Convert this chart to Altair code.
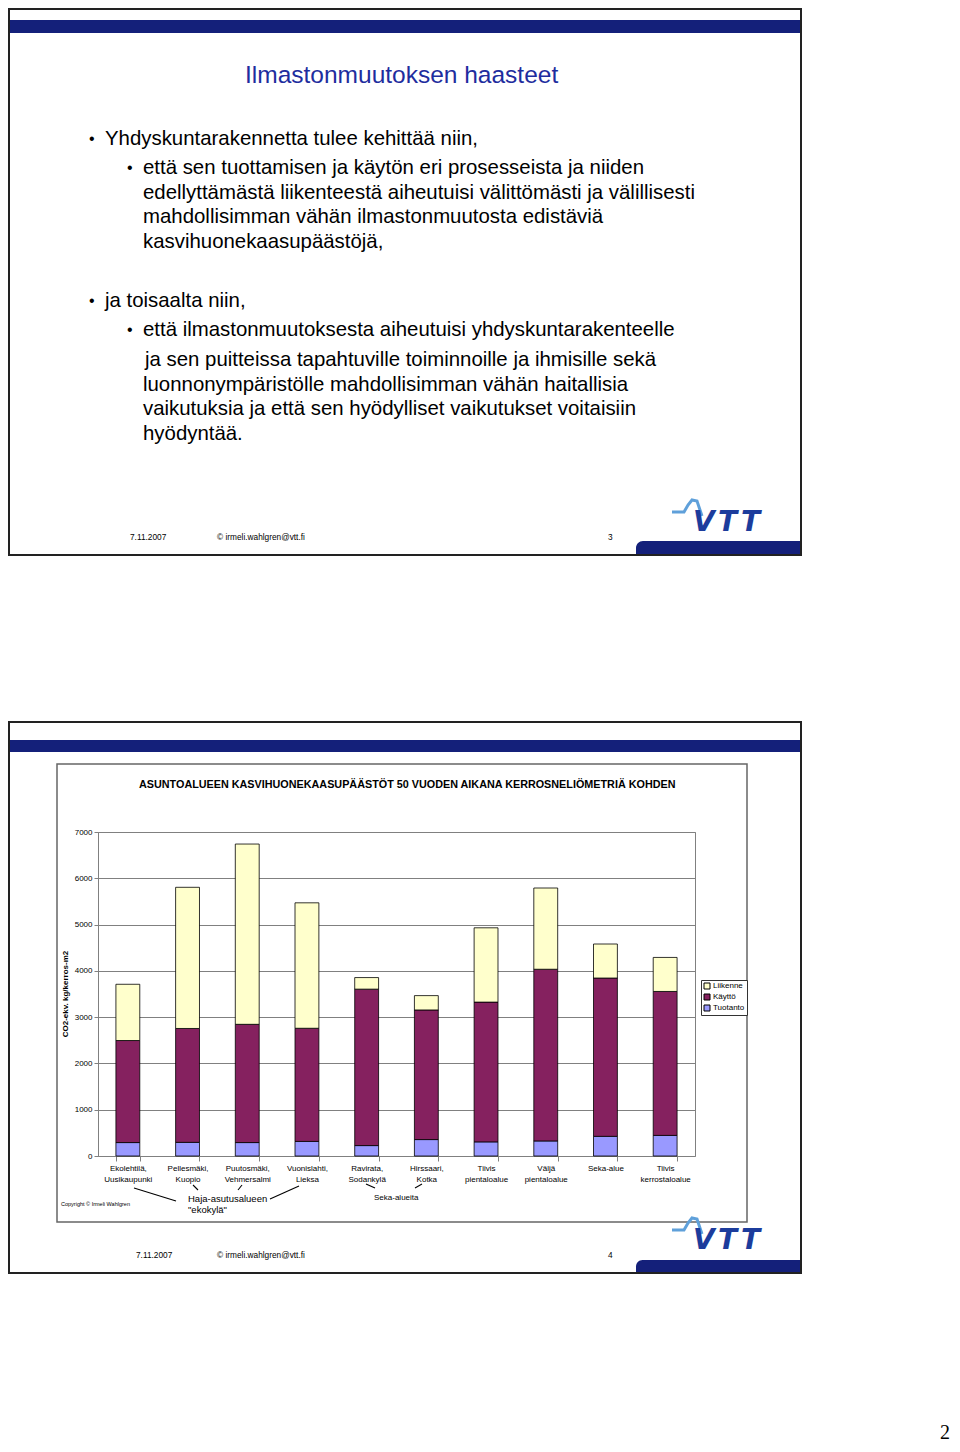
import altair as alt
import pandas as pd

# ---------------- data ----------------
categories = ["Ekolehtilä,|Uusikaupunki", "Pellesmäki,|Kuopio", "Puutosmäki,|Vehmersalmi",
              "Vuonislahti,|Lieksa", "Ravirata,|Sodankylä", "Hirssaari,|Kotka",
              "Tiivis|pientaloalue", "Väljä|pientaloalue", "Seka-alue", "Tiivis|kerrostaloalue"]
tuotanto = [290, 295, 290, 315, 225, 355, 305, 325, 425, 445]
kaytto = [2205, 2460, 2555, 2445, 3380, 2800, 3020, 3710, 3420, 3110]
liikenne = [1215, 3050, 3895, 2710, 250, 310, 1605, 1755, 735, 735]
series = ["Liikenne", "Käyttö", "Tuotanto"]
series_colors = ["#FFFFCC", "#85215F", "#9999FF"]
y_ticks = [0, 1000, 2000, 3000, 4000, 5000, 6000, 7000]

chart_title = "ASUNTOALUEEN KASVIHUONEKAASUPÄÄSTÖT 50 VUODEN AIKANA KERROSNELIÖMETRIÄ KOHDEN"
y_title = "CO2-ekv. kg/kerros-m2"

slide1_title = "Ilmastonmuutoksen haasteet"
slide1_lines = [
    (105, 139, "Yhdyskuntarakennetta tulee kehittää niin,"),
    (143, 168, "että sen tuottamisen ja käytön eri prosesseista ja niiden"),
    (143, 193, "edellyttämästä liikenteestä aiheutuisi välittömästi ja välillisesti"),
    (143, 217, "mahdollisimman vähän ilmastonmuutosta edistäviä"),
    (143, 242, "kasvihuonekaasupäästöjä,"),
    (105, 301, "ja toisaalta niin,"),
    (143, 330, "että ilmastonmuutoksesta aiheutuisi yhdyskuntarakenteelle"),
    (145, 360, "ja sen puitteissa tapahtuville toiminnoille ja ihmisille sekä"),
    (143, 385, "luonnonympäristölle mahdollisimman vähän haitallisia"),
    (143, 409, "vaikutuksia ja että sen hyödylliset vaikutukset voitaisiin"),
    (143, 434, "hyödyntää."),
]
bullets = [(89, 139), (127, 168), (89, 301), (127, 330)]

# page-coordinate layout helpers (plot area origin on the page)
OX, OY = 98, 832
W, H = 597, 324

# ---------------- bar data ----------------
rows = []
for i, c in enumerate(categories):
    rows.append({"cat": c, "series": "Tuotanto", "value": tuotanto[i], "ord": 0})
    rows.append({"cat": c, "series": "Käyttö", "value": kaytto[i], "ord": 1})
    rows.append({"cat": c, "series": "Liikenne", "value": liikenne[i], "ord": 2})
bar_df = pd.DataFrame(rows)

FONT = "Liberation Sans"

bars = alt.Chart(bar_df).mark_bar(stroke="black", strokeWidth=0.8).encode(
    x=alt.X("cat:N", sort=categories,
            scale=alt.Scale(domain=categories, paddingInner=0.6, paddingOuter=0.3),
            axis=alt.Axis(title=None, labelAngle=0, domain=False, tickBand="extent",
                          tickSize=5, tickColor="#808080", labelExpr="split(datum.label, '|')",
                          labelFont=FONT, labelFontSize=8, labelColor="black",
                          labelLineHeight=11, labelPadding=3, labelLimit=0)),
    y=alt.Y("value:Q", stack="zero",
            scale=alt.Scale(domain=[0, 7000], nice=False),
            axis=alt.Axis(title=None, values=y_ticks, format="d", grid=True, gridColor="#808080",
                          gridWidth=1, tickSize=4, tickColor="#808080", domainColor="#808080",
                          labelFont=FONT, labelFontSize=8, labelColor="black", labelPadding=2)),
    color=alt.Color("series:N", scale=alt.Scale(domain=series, range=series_colors),
                    legend=alt.Legend(title=None, orient="none", legendX=603, legendY=148,
                                      strokeColor="#333333", fillColor="white", padding=2,
                                      symbolType="square", symbolSize=36,
                                      symbolStrokeColor="black", symbolStrokeWidth=1,
                                      labelFont=FONT, labelFontSize=8, labelColor="black",
                                      rowPadding=1, labelOffset=2)),
    order=alt.Order("ord:Q", sort="ascending"),
)

# ---------------- decorations ----------------
def P(x, y):
    return x - OX, y - OY

# outlined rectangles
outline = []
for (x1, y1, x2, y2, st, sw) in [(9, 9, 801, 555, "#222222", 2), (9, 722, 801, 1273, "#222222", 2),
                                  (57, 764, 747, 1222, "#666666", 1.5)]:
    a, b = P(x1, y1); c, d = P(x2, y2)
    outline.append({"x": a, "y": b, "x2": c, "y2": d, "st": st, "sw": sw})
outline_df = pd.DataFrame(outline)
outline_layer = alt.Chart(outline_df).mark_rect(fillOpacity=0).encode(
    x=alt.X("x:Q", scale=None), x2="x2:Q", y=alt.Y("y:Q", scale=None), y2="y2:Q",
    stroke=alt.Stroke("st:N", scale=None), strokeWidth=alt.StrokeWidth("sw:Q", scale=None))

NAVY = "#14207A"
bands = []
for (x1, y1, x2, y2) in [(10, 20, 800, 33), (10, 740, 800, 752)]:
    a, b = P(x1, y1); c, d = P(x2, y2)
    bands.append({"x": a, "y": b, "x2": c, "y2": d})
band_layer = alt.Chart(pd.DataFrame(bands)).mark_rect(color=NAVY).encode(
    x=alt.X("x:Q", scale=None), x2="x2:Q", y=alt.Y("y:Q", scale=None), y2="y2:Q")

corners = []
for (x1, y1, x2, y2) in [(636, 541, 800, 555), (636, 1260, 800, 1273)]:
    a, b = P(x1, y1); c, d = P(x2, y2)
    corners.append({"x": a, "y": b, "x2": c, "y2": d})
corner_layer = alt.Chart(pd.DataFrame(corners)).mark_rect(color=NAVY, cornerRadiusTopLeft=14).encode(
    x=alt.X("x:Q", scale=None), x2="x2:Q", y=alt.Y("y:Q", scale=None), y2="y2:Q")

# annotation lines
segs = []
for (x1, y1, x2, y2) in [(134, 1188, 176, 1201), (193, 1185, 198, 1190), (242, 1185, 238, 1190),
                         (299, 1186, 270, 1199), (366, 1184, 375, 1188), (422, 1184, 415, 1188)]:
    a, b = P(x1, y1); c, d = P(x2, y2)
    segs.append({"x": a, "y": b, "x2": c, "y2": d})
seg_layer = alt.Chart(pd.DataFrame(segs)).mark_rule(color="black", strokeWidth=1.1).encode(
    x=alt.X("x:Q", scale=None), x2="x2:Q", y=alt.Y("y:Q", scale=None), y2="y2:Q")

# VTT logo wave
wave_pts = [(672, 512), (684, 512), (688, 505), (692, 500), (697, 501), (702, 516)]
wave = []
for g, dy in [(0, 0), (1, 718)]:
    for i, (x, y) in enumerate(wave_pts):
        a, b = P(x, y + dy)
        wave.append({"x": a, "y": b, "g": g, "i": i})
wave_layer = alt.Chart(pd.DataFrame(wave)).mark_line(color="#5FA0DA", strokeWidth=3).encode(
    x=alt.X("x:Q", scale=None), y=alt.Y("y:Q", scale=None),
    detail="g:N", order=alt.Order("i:Q"))

letters = []
for dy in [0, 718]:
    for (x, ch) in [(693, "V"), (718, "T"), (741, "T")]:
        a, b = P(x, 531 + dy)
        letters.append({"x": a, "y": b, "t": ch})
letter_layer = alt.Chart(pd.DataFrame(letters)).mark_text(
    font="DejaVu Sans", fontWeight="bold", fontStyle="italic", fontSize=28,
    align="left", baseline="alphabetic", color="#1C3C9C").encode(
    x=alt.X("x:Q", scale=None), y=alt.Y("y:Q", scale=None), text="t:N")

# plain texts
texts = []
def T(x, y, s, fs, col="black"):
    a, b = P(x, y)
    texts.append({"x": a, "y": b, "t": s, "fs": fs, "col": col})

T(245, 76, slide1_title, 24.5, "#1E2D9E")
for (x, y, s) in slide1_lines:
    T(x, y, s, 20.4)
for (x, y) in bullets:
    T(x, y, "•", 16)
for dy, num, dx in [(0, "3", 130), (718, "4", 136)]:
    T(dx, 538 + dy, "7.11.2007", 8.3)
    T(217, 538 + dy, "© irmeli.wahlgren@vtt.fi", 8.3)
    T(608, 538 + dy, num, 8.3)
T(61, 1204, "Copyright © Irmeli Wahlgren", 5.5)
T(188, 1199, "Haja-asutusalueen", 9.5)
T(188, 1210, '"ekokylä"', 9.5)
T(374, 1198, "Seka-alueita", 8)
text_layer = alt.Chart(pd.DataFrame(texts)).mark_text(
    font=FONT, align="left", baseline="middle").encode(
    x=alt.X("x:Q", scale=None), y=alt.Y("y:Q", scale=None), text="t:N",
    size=alt.Size("fs:Q", scale=None), fill=alt.Fill("col:N", scale=None))

tx, ty = P(139, 785)
title_layer = alt.Chart(pd.DataFrame([{"x": tx, "y": ty, "t": chart_title}])).mark_text(
    font=FONT, fontWeight="bold", fontSize=10.8, align="left", baseline="middle", color="black").encode(
    x=alt.X("x:Q", scale=None), y=alt.Y("y:Q", scale=None), text="t:N")

yx, yy = P(66, 994)
ytitle_layer = alt.Chart(pd.DataFrame([{"x": yx, "y": yy, "t": y_title}])).mark_text(
    font=FONT, fontWeight="bold", fontSize=8, align="center", baseline="middle",
    angle=270, color="black").encode(
    x=alt.X("x:Q", scale=None), y=alt.Y("y:Q", scale=None), text="t:N")

px_, py_ = P(950, 1433)
page_layer = alt.Chart(pd.DataFrame([{"x": px_, "y": py_, "t": "2"}])).mark_text(
    font="Liberation Serif", fontSize=20, align="right", baseline="middle", color="black").encode(
    x=alt.X("x:Q", scale=None), y=alt.Y("y:Q", scale=None), text="t:N")

chart = alt.layer(
    bars, band_layer, corner_layer, outline_layer, seg_layer, wave_layer, letter_layer,
    text_layer, title_layer, ytitle_layer, page_layer
).properties(
    width=W, height=H,
    padding={"left": OX - 8, "top": OY - 8, "right": 944 - (OX - 8) - W, "bottom": 1436 - (OY - 8) - H},
    autosize=alt.AutoSizeParams(type="none"),
).configure_view(stroke="#808080", strokeWidth=1)

chart.save("out.html", embed_options={"renderer": "svg", "actions": False})
